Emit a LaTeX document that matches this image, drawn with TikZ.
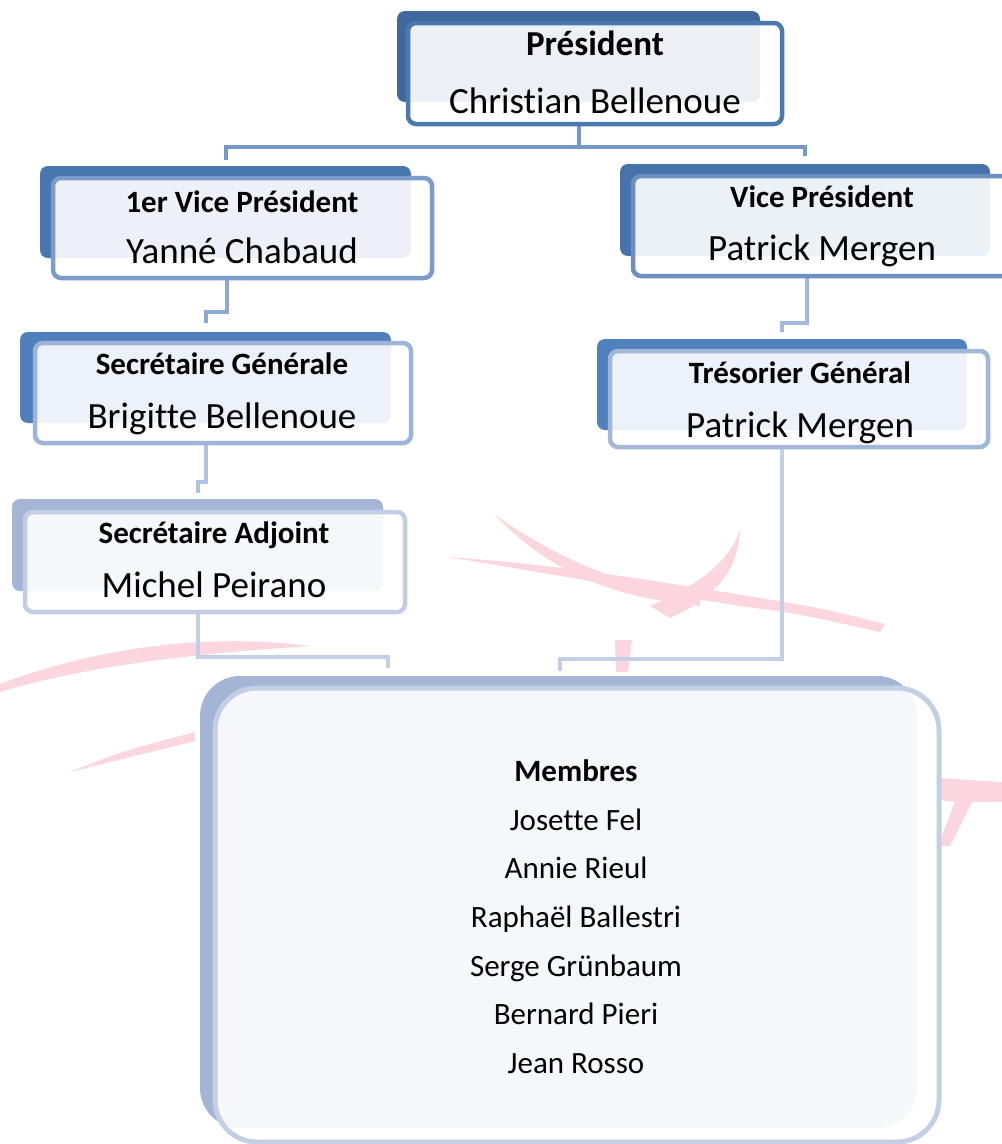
\documentclass[tikz,border=0pt]{standalone}
\usepackage{fontspec}
\setmainfont{Carlito}[RawFeature={-liga;-clig;-calt;-dlig}]
\usetikzlibrary{calc}
\definecolor{cPb}{HTML}{41689C}\definecolor{cPf}{HTML}{4A78B1}
\definecolor{cVab}{HTML}{4876AE}\definecolor{cVaf}{HTML}{7B9BCB}
\definecolor{cVbb}{HTML}{4673AA}\definecolor{cVbf}{HTML}{6C8FC3}
\definecolor{cSGb}{HTML}{4F80BD}\definecolor{cSGf}{HTML}{9DB3D8}
\definecolor{cTRb}{HTML}{4F81BD}\definecolor{cTRf}{HTML}{A2B6D8}
\definecolor{cSAb}{HTML}{A5B5D5}\definecolor{cSAf}{HTML}{C2CDE3}
\definecolor{cMb}{HTML}{A3B4D4}\definecolor{cMf}{HTML}{C3CFE4}
\definecolor{kP}{HTML}{7598C9}\definecolor{kV}{HTML}{8EAAD4}
\definecolor{kT}{HTML}{A3B8DA}\definecolor{kS}{HTML}{B0C2DF}
\definecolor{kM}{HTML}{C3CFE4}
\definecolor{pinkw}{HTML}{FCD6DE}
\begin{document}
\begin{tikzpicture}[x=1pt,y=-1pt,
  backbox/.style={rounded corners=8pt, inner sep=0pt, outer sep=0pt},
  frontbox/.style={rounded corners=8pt, line width=4.5pt, fill=white, fill opacity=0.9, draw opacity=1, inner sep=0pt, outer sep=0pt},
  conn/.style={line width=4pt},
  ttl/.style={anchor=base, font=\fontsize{31}{36}\selectfont\bfseries},
  nm/.style={anchor=base, font=\fontsize{37}{42}\selectfont},
  mem/.style={anchor=base, font=\fontsize{31}{36}\selectfont},
]
\useasboundingbox (0,0) rectangle (1002,1144);
\fill[white] (0,0) rectangle (1002,1144);

% faint watermark swooshes
\begin{scope}[pinkw]
\fill (0,684) .. controls (90,650) and (200,632) .. (310,646) .. controls (220,652) and (100,662) .. (0,692) -- cycle;
\fill (70,772) .. controls (120,752) .. (195,732) -- (195,741) .. controls (130,757) .. (70,772) -- cycle;
\fill (495,515) .. controls (560,560) and (620,585) .. (700,598) -- (700,606) .. controls (610,597) and (550,572) .. (495,515) -- cycle;
\fill (448,557) .. controls (540,563) and (640,578) .. (760,598) .. controls (820,608) .. (885,624) -- (880,632) .. controls (800,614) .. (740,606) .. controls (650,592) and (540,572) .. (448,557) -- cycle;
\fill (650,606) .. controls (700,585) and (730,560) .. (740,530) .. controls (738,575) and (710,600) .. (670,618) -- cycle;
\fill (615,640) -- (632,640) -- (628,672) -- (616,672) -- cycle;
\fill (940,778) -- (1002,782) -- (1002,802) -- (972,802) -- (950,846) -- (938,846) -- (955,802) -- (940,800) -- cycle;
\end{scope}

% back boxes
\node[backbox, fill=cPb,  minimum width=363pt, minimum height=91pt] (pb)  at (578.5,56.5) {};
\node[backbox, fill=cVab, minimum width=371pt, minimum height=92pt] (vab) at (225.5,212) {};
\node[backbox, fill=cVbb, minimum width=370pt, minimum height=92pt] (vbb) at (805,210) {};
\node[backbox, fill=cSGb, minimum width=371pt, minimum height=91pt] (sgb) at (205.5,377.5) {};
\node[backbox, fill=cTRb, minimum width=370pt, minimum height=91pt] (trb) at (782,384.5) {};
\node[backbox, fill=cSAb, minimum width=371pt, minimum height=92pt] (sab) at (197.5,545) {};
\node[backbox, fill=cMb, rounded corners=40pt, minimum width=717pt, minimum height=452pt] (mb) at (558.5,902) {};

% connectors
\coordinate (pfs) at (578.5,124);
\draw[conn, kP] (pfs) -- ++(0,23) coordinate (pj);
\draw[conn, kP] (pj) -| ($(vab.north)+(0,-6)$);
\draw[conn, kP] (pj) -| ($(vbb.north)+(0,-8)$);
\draw[conn, kV] ($(vab.south)+(1.5,20)$) -- ++(0,34) -| ($(sgb.north)+(0,-9)$);
\draw[conn, kT] ($(vbb.south)+(1.5,20)$) -- ++(0,47) -| ($(trb.north)+(0,-7)$);
\draw[conn, kS] ($(sgb.south)+(0,20)$) -- ++(0,39) -| ($(sab.north)+(0,-6)$);
\draw[conn, kM] ($(sab.south)+(0,21)$) -- ++(0,45) -| ($(mb.north west)+(188,-8)$);
\draw[conn, kM] ($(trb.south)+(0,17)$) -- ++(0,212) -| ($(mb.north)+(1.5,-5)$);

% front boxes
\node[frontbox, draw=cPf,  minimum width=374pt, minimum height=101pt] (pf)  at (595,73.5) {};
\node[frontbox, draw=cVaf, minimum width=379pt, minimum height=100pt] (vaf) at (242.5,228) {};
\node[frontbox, draw=cVbf, minimum width=379pt, minimum height=100pt] (vbf) at (822.5,226) {};
\node[frontbox, draw=cSGf, minimum width=376pt, minimum height=100pt] (sgf) at (223,393) {};
\node[frontbox, draw=cTRf, minimum width=378pt, minimum height=96pt]  (trf) at (799,399) {};
\node[frontbox, draw=cSAf, minimum width=380pt, minimum height=100pt] (saf) at (215,562) {};
\node[frontbox, draw=cMf, line width=5pt, rounded corners=42pt, minimum width=724pt, minimum height=454pt] (mf) at (577,915) {};

% texts
\node[ttl, font=\fontsize{35}{40}\selectfont\bfseries] (t1) at (595,55) {Président};
\node[nm] (n1) at (595,113) {Christian Bellenoue};
\node[ttl] (t2) at (242,212) {1er Vice Président};
\node[nm]  (n2) at (242,263) {Yanné Chabaud};
\node[ttl] (t3) at (822,207) {Vice Président};
\node[nm]  (n3) at (822,260) {Patrick Mergen};
\node[ttl] (t4) at (222,374) {Secrétaire Générale};
\node[nm]  (n4) at (222,428) {Brigitte Bellenoue};
\node[ttl] (t5) at (800,383) {Trésorier Général};
\node[nm]  (n5) at (800,437) {Patrick Mergen};
\node[ttl] (t6) at (214,543) {Secrétaire Adjoint};
\node[nm]  (n6) at (214,597) {Michel Peirano};
\node[mem, font=\fontsize{31}{36}\selectfont\bfseries] (m0) at (576,781) {Membres};
\node[mem] (m1) at (576,830) {Josette Fel};
\node[mem] (m2) at (576,878.5) {Annie Rieul};
\node[mem] (m3) at (576,927) {Raphaël Ballestri};
\node[mem] (m4) at (576,976) {Serge Grünbaum};
\node[mem] (m5) at (576,1024.5) {Bernard Pieri};
\node[mem] (m6) at (576,1073) {Jean Rosso};
\end{tikzpicture}
\end{document}
